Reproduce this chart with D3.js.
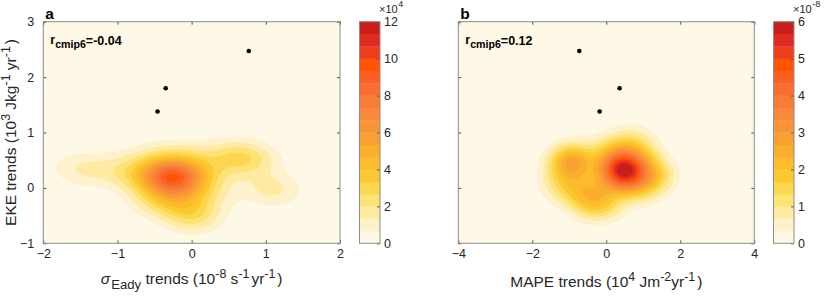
<!DOCTYPE html>
<html><head><meta charset="utf-8">
<script src="https://cdn.jsdelivr.net/npm/d3@7"></script>
<style>
body{margin:0;background:#fff}
text{font-family:"Liberation Sans",Arial,Helvetica,sans-serif}
</style>
</head><body>
<svg id="c" width="830" height="300"></svg>
<script>
// ---------- data ----------
const levelColors = ["#fef8e7","#fdf2cc","#feeaa0","#fde274","#fdd650","#fcc832","#fcbc2c","#fbae2e","#f9a032",
  "#f99436","#f8883a","#f97b38","#fb6e32","#fc6020","#fe5500","#f03e1c","#e02b24","#c81f1a"];

// Panel a: CMIP6 model trends (sigma_Eady, EKE)
const eadyModelX = [-1.58,-1.30, 0.50,0.62,0.72,0.88, 1.02,1.15,
  -0.25,-0.20,-0.35,-0.22,-0.10,-0.45,-0.55,-0.75,-0.90,0.05,0.20,-0.05,-0.35,-0.05,0.10,-0.55,0.00,-0.45,0.30,-0.20,
  -0.28,-0.18,-0.32,0.00,-0.24,-0.30];
const eadyModelY = [0.36,0.32, 0.55,0.58,0.52,0.50, 0.02,-0.06,
  0.20,0.28,0.30,0.05,0.30,0.10,0.32,0.20,0.35,0.15,0.35,-0.15,-0.15,-0.40,-0.50,-0.25,0.60,0.58,-0.05,-0.30,
  0.22,0.12,0.10,-0.55,0.18,0.25];
// Panel b: CMIP6 model trends (MAPE, EKE)
const mapeModelX = [-1.00,-0.90,-0.95,-0.88,-1.25, -0.60,-0.30,0.00,-0.90,-0.35,
  0.46,0.40,0.55,0.30,0.60,0.50,0.35,0.70,0.20,0.45, 1.20,1.00,0.90,0.70,0.10,1.35];
const mapeModelY = [0.50,0.45,0.42,0.52,0.10, -0.20,-0.30,-0.30,0.00,-0.05,
  0.29,0.35,0.25,0.20,0.40,0.10,0.45,0.20,0.35,0.50, 0.30,0.00,0.60,0.85,0.70,0.20];
// Observations / reanalyses (black dots)
const obsEKE  = [2.47, 1.80, 1.38];
const obsEady = [0.77, -0.35, -0.46];
const obsMAPE = [-0.73, 0.36, -0.18];

const xTicksA = [-2,-1,0,1,2];
const xTicksB = [-4,-2,0,2,4];
const yTicks = [-1,0,1,2,3];
const cbarTicksA = [0,2,4,6,8,10,12];
const cbarTicksB = [0,1,2,3,4,5,6];
const rLabels = ["=-0.04","=0.12"];

// ---------- drawing ----------
const svg = d3.select("#c");
const nLev = levelColors.length;
const TXT = "#262626";

function kdeGrid(px, py, hx, hy, xd, yd, nx, ny, factor){
  const N = px.length, v = new Float64Array(nx*ny);
  const norm = factor/(N*2*Math.PI*hx*hy);
  for(let j=0;j<ny;j++){
    const y = yd[1]-(j+0.5)*(yd[1]-yd[0])/ny;
    for(let i=0;i<nx;i++){
      const x = xd[0]+(i+0.5)*(xd[1]-xd[0])/nx;
      let s=0;
      for(let k=0;k<N;k++){const dx=(x-px[k])/hx, dy=(y-py[k])/hy; s+=Math.exp(-0.5*(dx*dx+dy*dy));}
      v[j*nx+i]=s*norm;
    }
  }
  return v;
}

function rich(t, parts){
  parts.forEach(p=>{
    const ts = t.append("tspan").text(p.t);
    if(p.s==="sup") ts.attr("font-size","0.8em");
    if(p.s==="sub") ts.attr("font-size","0.85em");
    if(p.dy) ts.attr("dy",p.dy);
    if(p.dx) ts.attr("dx",p.dx);
    if(p.style) ts.attr("font-style",p.style);
  });
}

function panel(cfg){
  const g = svg.append("g");
  const x = d3.scaleLinear().domain(cfg.xd).range([cfg.left, cfg.right]);
  const y = d3.scaleLinear().domain([-1,3]).range([cfg.bottom, cfg.top]);
  const clipId = "clip"+cfg.id;
  svg.append("clipPath").attr("id",clipId).append("rect")
    .attr("x",cfg.left).attr("y",cfg.top).attr("width",cfg.right-cfg.left).attr("height",cfg.bottom-cfg.top);
  g.append("rect").attr("x",cfg.left).attr("y",cfg.top).attr("width",cfg.right-cfg.left).attr("height",cfg.bottom-cfg.top)
    .attr("fill",levelColors[0]);
  const nx=180, ny=180;
  const vals = kdeGrid(cfg.px, cfg.py, cfg.hx, cfg.hy, cfg.xd, [-1,3], nx, ny, cfg.factor);
  const step = cfg.cmax/nLev;
  const thr = d3.range(1,nLev).map(k=>k*step);
  const cs = d3.contours().size([nx,ny]).thresholds(thr)(Array.from(vals));
  const proj = d3.geoTransform({point:function(a,b){
    this.stream.point(x(cfg.xd[0]+a*(cfg.xd[1]-cfg.xd[0])/nx), y(3-b*4/ny));
  }});
  const path = d3.geoPath(proj);
  g.append("g").attr("clip-path",`url(#${clipId})`).selectAll("path").data(cs).join("path")
    .attr("d",path).attr("fill",(d,i)=>levelColors[i+1]).attr("stroke",(d,i)=>levelColors[i+1]).attr("stroke-width",0.3);
  // dots
  g.selectAll("circle").data(obsEKE).join("circle")
    .attr("cx",(d,i)=>x(cfg.ox[i])).attr("cy",d=>y(d)).attr("r",2.3).attr("fill","#000");
  // axes
  const bAx = g.append("g").attr("transform",`translate(0,${cfg.bottom})`)
    .call(d3.axisBottom(x).tickValues(cfg.xt).tickSize(-3).tickPadding(6).tickFormat(d3.format("d")));
  const tAx = g.append("g").attr("transform",`translate(0,${cfg.top})`)
    .call(d3.axisTop(x).tickValues(cfg.xt).tickSize(-3).tickFormat(""));
  const lAx = g.append("g").attr("transform",`translate(${cfg.left},0)`)
    .call(d3.axisLeft(y).tickValues(yTicks).tickSize(-3).tickPadding(9).tickFormat(cfg.ylab?d3.format("d"):""));
  const rAx = g.append("g").attr("transform",`translate(${cfg.right},0)`)
    .call(d3.axisRight(y).tickValues(yTicks).tickSize(-3).tickFormat(""));
  [bAx,tAx,lAx,rAx].forEach(a=>{
    a.select(".domain").remove();
    a.selectAll("line").attr("stroke","#555");
    a.selectAll("text").attr("font-size",12.5).style("fill",TXT)
      .attr("font-family",'"Liberation Sans",Arial,sans-serif');
  });
  g.append("rect").attr("x",cfg.left).attr("y",cfg.top).attr("width",cfg.right-cfg.left).attr("height",cfg.bottom-cfg.top)
    .attr("fill","none").attr("stroke","#8c8c8c").attr("stroke-width",1);
  // colorbar
  const cy = d3.scaleLinear().domain([0,cfg.cmax]).range([cfg.bottom, cfg.top]);
  g.selectAll("rect.cb").data(levelColors).join("rect").attr("class","cb")
    .attr("x",cfg.cbl).attr("width",cfg.cbr-cfg.cbl)
    .attr("y",(d,i)=>cy((i+1)*step)).attr("height",(d,i)=>cy(i*step)-cy((i+1)*step)+0.3)
    .attr("fill",d=>d);
  const cAx = g.append("g").attr("transform",`translate(${cfg.cbr},0)`)
    .call(d3.axisRight(cy).tickValues(cfg.ct).tickSize(-3).tickPadding(4).tickFormat(d3.format("d")));
  cAx.select(".domain").remove();
  cAx.selectAll("line").attr("stroke","#555");
  cAx.selectAll("text").attr("font-size",12.5).style("fill",TXT)
    .attr("font-family",'"Liberation Sans",Arial,sans-serif');
  g.append("rect").attr("x",cfg.cbl).attr("y",cfg.top).attr("width",cfg.cbr-cfg.cbl).attr("height",cfg.bottom-cfg.top)
    .attr("fill","none").attr("stroke","#8c8c8c");
  // colorbar exponent
  const ex = g.append("text").attr("x",cfg.cbr-1).attr("y",12.5).attr("font-size",11.5)
    .attr("fill","rgb(38,38,38)").attr("font-family",'"DejaVu Sans",sans-serif').attr("font-size",11).text("×10");
  const exw = ex.node().getComputedTextLength();
  g.append("text").attr("x",cfg.cbr-1+exw+0.5).attr("y",7).attr("font-size",9).style("fill",TXT).text(cfg.cexp);
  // panel letter
  g.append("text").attr("x",cfg.left+2).attr("y",19).attr("font-size",15.5).attr("font-weight","bold")
    .style("fill","#000").text(cfg.letter);
  // r label
  const r = g.append("text").attr("x",cfg.left+7).attr("y",44).attr("font-size",12.5).attr("font-weight","bold").style("fill","#000");
  rich(r,[{t:"r"},{t:"cmip6",s:"sub",dy:"0.4em"},{t:cfg.r,dy:"-0.3em"}]);
  // x label
  const xl = g.append("text").attr("x",(cfg.left+cfg.right)/2).attr("y",cfg.xly).attr("text-anchor","middle")
    .attr("font-size",15.5).style("fill",TXT);
  rich(xl,cfg.xlab);
  if(cfg.ylab){
    const yl = g.append("text").attr("transform",`translate(16,${(cfg.top+cfg.bottom)/2}) rotate(-90)`)
      .attr("text-anchor","middle").attr("font-size",15.5).style("fill",TXT);
    rich(yl,cfg.ylab);
  }
}

panel({id:"a",letter:"a",left:43.3,right:340,top:21.7,bottom:243.3,cbl:359.5,cbr:380,
  xd:[-2,2],xt:xTicksA,px:eadyModelX,py:eadyModelY,hx:0.27,hy:0.22,factor:10,cmax:12,ct:cbarTicksA,cexp:"4",
  ox:obsEady,r:rLabels[0],xly:284,
  xlab:[{t:"σ",style:"italic"},{t:"Eady",s:"sub",dy:"0.35em",dx:"1"},{t:" trends (10",dy:"-0.3em"},{t:"-8",s:"sup",dy:"-0.45em"},{t:" s",dy:"0.36em"},{t:"-1",s:"sup",dy:"-0.45em"},{t:"yr",dy:"0.36em",dx:"2"},{t:"-1",s:"sup",dy:"-0.45em"},{t:")",dy:"0.36em",dx:"2"}],
  ylab:[{t:"EKE trends (10"},{t:"3",s:"sup",dy:"-0.45em"},{t:" Jkg",dy:"0.36em"},{t:"-1",s:"sup",dy:"-0.45em"},{t:" yr",dy:"0.36em"},{t:"-1",s:"sup",dy:"-0.45em"},{t:")",dy:"0.36em",dx:"2"}]});

panel({id:"b",letter:"b",left:458.3,right:754.3,top:21.7,bottom:243.3,cbl:773.5,cbr:794,
  xd:[-4,4],xt:xTicksB,px:mapeModelX,py:mapeModelY,hx:0.42,hy:0.22,factor:10,cmax:6,ct:cbarTicksB,cexp:"-8",
  ox:obsMAPE,r:rLabels[1],xly:287,
  xlab:[{t:"MAPE trends (10"},{t:"4",s:"sup",dy:"-0.45em"},{t:" Jm",dy:"0.36em"},{t:"-2",s:"sup",dy:"-0.45em"},{t:"yr",dy:"0.36em"},{t:"-1",s:"sup",dy:"-0.45em"},{t:")",dy:"0.36em",dx:"2"}],
  ylab:null});
</script>
</body></html>
